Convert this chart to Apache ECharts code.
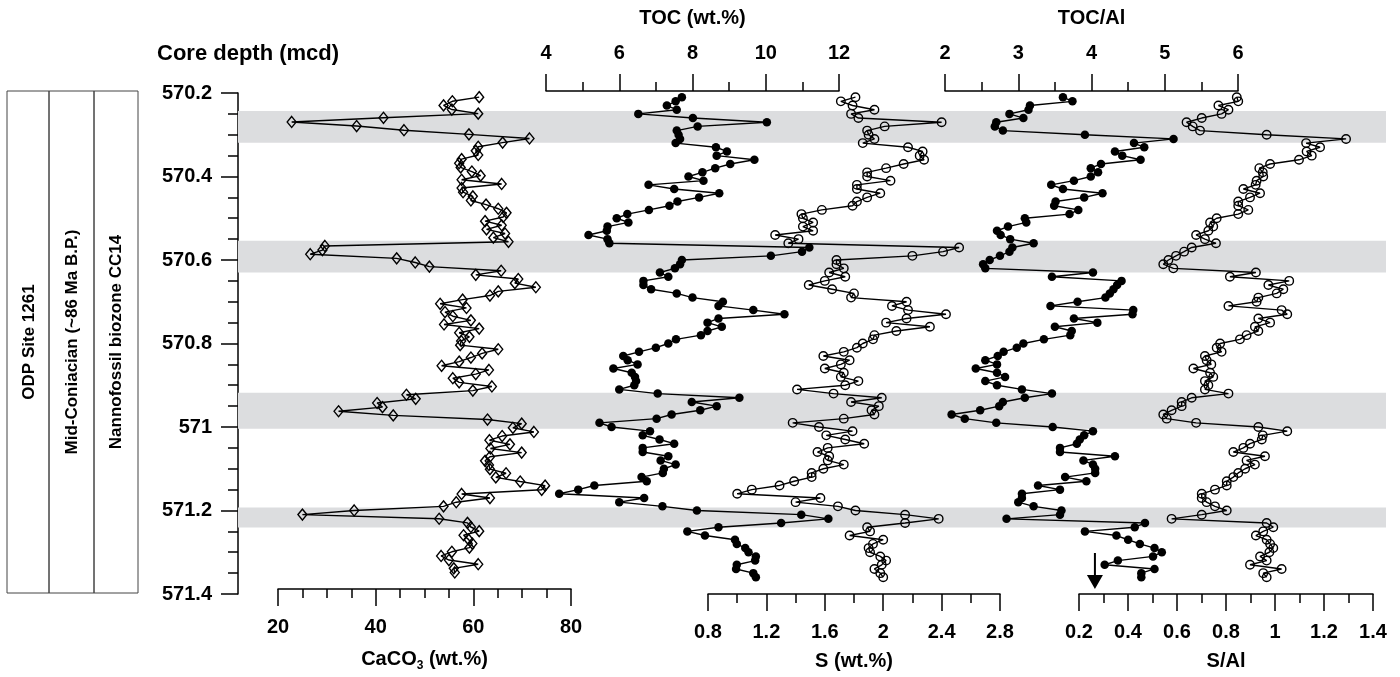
<!DOCTYPE html>
<html>
<head>
<meta charset="utf-8">
<script src="https://cdn.jsdelivr.net/npm/echarts@6/dist/echarts.min.js"></script>
<style>
  html, body { margin: 0; padding: 0; background: #fff; }
  #chart { width: 1400px; height: 677px; }
</style>
</head>
<body>
<div id="chart"></div>
<script>
// core depth of each sample (mcd)
const depth = [
  570.21, 570.22, 570.23, 570.24, 570.25, 570.26, 570.27, 570.28, 570.29, 570.30,
  570.31, 570.32, 570.33, 570.34, 570.35, 570.36, 570.37, 570.38, 570.39, 570.40,
  570.41, 570.42, 570.43, 570.44, 570.45, 570.46, 570.47, 570.48, 570.49, 570.50,
  570.51, 570.52, 570.53, 570.54, 570.55, 570.56, 570.57, 570.58, 570.59, 570.60,
  570.61, 570.62, 570.63, 570.64, 570.65, 570.66, 570.67, 570.68, 570.69, 570.70,
  570.71, 570.72, 570.73, 570.74, 570.75, 570.76, 570.77, 570.78, 570.79, 570.80,
  570.81, 570.82, 570.83, 570.84, 570.85, 570.86, 570.87, 570.88, 570.89, 570.90,
  570.91, 570.92, 570.93, 570.94, 570.95, 570.96, 570.97, 570.98, 570.99, 571.00,
  571.01, 571.02, 571.03, 571.04, 571.05, 571.06, 571.07, 571.08, 571.09, 571.10,
  571.11, 571.12, 571.13, 571.14, 571.15, 571.16, 571.17, 571.18, 571.19, 571.20,
  571.21, 571.22, 571.23, 571.24, 571.25, 571.26, 571.27, 571.28, 571.29, 571.30,
  571.31, 571.32, 571.33, 571.34, 571.35, 571.36
]

const caco3 = [
  61.2, 55.7, 53.9, 55.6, 61.0, 41.6, 22.8, 36.1, 45.8, 59.1,
  71.5, 66.0, 61.0, 60.5, 61.0, 57.6, 57.1, 57.4, 59.7, 61.5,
  57.6, 65.8, 57.6, 57.9, 59.9, 59.5, 62.6, 65.1, 66.8, 66.1,
  62.4, 65.8, 62.7, 66.5, 64.1, 67.2, 29.6, 29.1, 26.6, 44.3,
  48.1, 51.0, 65.7, 60.5, 69.2, 68.5, 72.8, 65.1, 63.4, 57.8,
  53.2, 58.6, 54.2, 55.8, 59.5, 54.0, 61.2, 57.1, 59.2, 57.5,
  57.3, 65.1, 61.8, 59.5, 57.1, 53.5, 63.2, 60.5, 55.8, 57.1,
  63.8, 59.9, 46.3, 48.2, 40.3, 41.4, 32.4, 43.6, 62.9, 69.9,
  68.1, 72.4, 65.9, 63.3, 67.5, 63.5, 69.9, 63.4, 62.4, 63.2,
  63.4, 66.7, 64.6, 69.6, 74.7, 74.0, 57.6, 63.4, 56.5, 53.9,
  35.6, 25.0, 53.0, 58.8, 59.5, 61.2, 58.0, 59.0, 59.8, 59.2,
  55.6, 53.4, 55.0, 61.0, 56.0, 56.2
]

const toc = [
  7.71, 7.54, 7.30, 7.57, 6.52, 8.01, 10.03, 8.14, 7.57, 7.62,
  7.66, 7.54, 8.64, 8.94, 8.66, 9.69, 9.03, 8.62, 8.27, 7.89,
  8.30, 6.80, 7.50, 8.73, 8.18, 7.59, 7.37, 6.81, 6.22, 5.93,
  6.25, 5.68, 5.66, 5.16, 5.68, 5.73, 11.19, 10.99, 10.14, 7.71,
  7.66, 7.52, 7.11, 7.34, 6.66, 6.66, 6.87, 7.57, 8.00, 8.83,
  8.71, 9.66, 10.51, 8.71, 8.41, 8.80, 8.41, 8.23, 7.55, 7.34,
  7.00, 6.54, 6.11, 6.23, 6.50, 5.84, 6.34, 6.43, 6.46, 6.41,
  6.00, 7.05, 9.28, 7.98, 8.66, 8.21, 7.43, 7.02, 5.46, 5.79,
  6.84, 6.64, 7.10, 7.50, 6.64, 6.64, 7.34, 7.13, 7.54, 7.22,
  7.19, 6.61, 6.75, 5.32, 4.88, 4.36, 6.68, 6.00, 7.18, 8.12,
  10.97, 11.71, 10.42, 8.71, 7.86, 8.34, 9.16, 9.21, 9.44, 9.53,
  9.73, 9.71, 9.21, 9.19, 9.66, 9.73
]

const sulfur = [
  1.81, 1.71, 1.79, 1.94, 1.78, 1.83, 2.40, 2.01, 1.89, 1.90,
  1.94, 1.86, 2.17, 2.27, 2.25, 2.28, 2.14, 2.02, 1.89, 1.89,
  2.05, 1.82, 1.82, 1.98, 1.89, 1.82, 1.79, 1.58, 1.44, 1.45,
  1.52, 1.45, 1.52, 1.26, 1.42, 1.35, 2.52, 2.41, 2.20, 1.68,
  1.68, 1.73, 1.63, 1.74, 1.60, 1.49, 1.65, 1.80, 1.78, 2.16,
  2.06, 2.17, 2.43, 2.16, 2.02, 2.32, 2.09, 1.94, 1.93, 1.86,
  1.82, 1.73, 1.59, 1.77, 1.71, 1.60, 1.73, 1.71, 1.83, 1.74,
  1.41, 1.66, 1.99, 1.78, 1.97, 1.92, 1.94, 1.73, 1.38, 1.56,
  1.79, 1.61, 1.74, 1.87, 1.62, 1.55, 1.63, 1.62, 1.73, 1.59,
  1.51, 1.51, 1.39, 1.29, 1.10, 1.00, 1.57, 1.40, 1.69, 1.81,
  2.15, 2.38, 2.15, 1.89, 1.91, 1.77, 2.00, 1.93, 1.90, 1.91,
  1.98, 2.02, 1.99, 1.94, 1.98, 2.00
]

const tocAl = [
  3.61, 3.74, 3.16, 3.14, 2.88, 3.07, 2.70, 2.68, 2.79, 3.91,
  5.12, 4.58, 4.72, 4.32, 4.42, 4.67, 4.13, 3.99, 4.09, 3.99,
  3.76, 3.45, 3.61, 4.15, 3.90, 3.51, 3.49, 3.82, 3.70, 3.09,
  3.11, 2.86, 2.71, 2.76, 2.89, 3.21, 2.92, 2.88, 2.75, 2.61,
  2.52, 2.55, 4.02, 3.46, 4.41, 4.35, 4.30, 4.25, 4.19, 3.81,
  3.44, 4.57, 4.56, 3.76, 4.08, 3.50, 3.73, 3.71, 3.35, 3.07,
  2.98, 2.80, 2.72, 2.55, 2.71, 2.42, 2.71, 2.82, 2.55, 2.71,
  3.05, 3.46, 3.09, 2.79, 2.74, 2.48, 2.09, 2.27, 2.70, 3.47,
  4.02, 3.90, 3.84, 3.80, 3.57, 3.57, 4.32, 3.89, 4.02, 4.05,
  4.05, 3.64, 3.93, 3.27, 3.57, 3.05, 3.05, 3.00, 3.21, 3.59,
  3.57, 2.84, 4.73, 4.59, 3.91, 4.34, 4.50, 4.66, 4.86, 4.96,
  4.84, 4.36, 4.18, 4.86, 4.68, 4.68
]

const sAl = [
  0.844, 0.850, 0.769, 0.810, 0.782, 0.701, 0.639, 0.664, 0.694, 0.966,
  1.290, 1.127, 1.184, 1.129, 1.150, 1.098, 0.980, 0.936, 0.950, 0.952,
  0.925, 0.921, 0.871, 0.939, 0.898, 0.850, 0.850, 0.891, 0.850, 0.762,
  0.735, 0.748, 0.728, 0.678, 0.714, 0.759, 0.660, 0.629, 0.596, 0.565,
  0.544, 0.585, 0.922, 0.816, 1.058, 0.973, 1.034, 1.007, 0.932, 0.925,
  0.810, 1.027, 1.050, 0.932, 0.980, 0.918, 0.932, 0.884, 0.857, 0.776,
  0.762, 0.782, 0.714, 0.721, 0.740, 0.667, 0.735, 0.748, 0.714, 0.728,
  0.714, 0.810, 0.660, 0.619, 0.619, 0.578, 0.544, 0.558, 0.678, 0.932,
  1.050, 0.950, 0.946, 0.898, 0.871, 0.830, 0.959, 0.884, 0.918, 0.878,
  0.850, 0.830, 0.803, 0.803, 0.755, 0.701, 0.701, 0.721, 0.755, 0.803,
  0.701, 0.578, 0.966, 0.993, 0.952, 0.922, 0.966, 0.980, 0.993, 0.977,
  0.939, 0.966, 0.898, 1.027, 0.952, 0.966
]

// grey intervals (top, bottom depth)
const bandTop = [570.243, 570.554, 570.918, 571.193]
const bandBottom = [570.319, 570.630, 571.004, 571.241]

// arrow under the S/Al column
const arrowAt = [0.265, 571.345]

const font = '"Liberation Sans", Arial, sans-serif'
const black = '#000'

const myChart = echarts.init(document.getElementById('chart'))

function pairs (vals) {
  return vals.map((v, i) => [v, depth[i]])
}

// one narrow grid per column, all sharing the same depth range
const grids = [
  { left: 238, width: 1148 }, // background + depth axis
  { left: 278, width: 293 }, // CaCO3
  { left: 546, width: 293 }, // TOC
  { left: 708, width: 292 }, // S
  { left: 945, width: 293 }, // TOC/Al
  { left: 1079, width: 294 } // S/Al
].map(g => Object.assign({ top: 93, bottom: 83 }, g))

function xAxisCfg (idx, pos, min, max, interval, minorSplit, name) {
  return {
    gridIndex: idx,
    type: 'value',
    position: pos,
    offset: pos === 'top' ? 2 : 0,
    min: min,
    max: max,
    interval: interval,
    name: name,
    nameLocation: 'middle',
    nameGap: pos === 'top' ? 63 : 57,
    nameTextStyle: {
      fontFamily: font,
      fontWeight: 'bold',
      fontSize: 20,
      color: black,
      rich: {
        sub: { fontFamily: font, fontWeight: 'bold', fontSize: 12, color: black, verticalAlign: 'bottom', padding: [14, 0, 0, 0] }
      }
    },
    axisLine: { show: true, onZero: false, lineStyle: { color: black, width: 1.5 } },
    axisTick: { show: true, length: 17, lineStyle: { color: black, width: 1.5 } },
    minorTick: { show: true, splitNumber: minorSplit, length: 9, lineStyle: { color: black, width: 1.5 } },
    axisLabel: { margin: 28, fontFamily: font, fontWeight: 'bold', fontSize: 20, color: black },
    splitLine: { show: false }
  }
}

function yAxisCfg (idx, visible) {
  return {
    gridIndex: idx,
    type: 'value',
    inverse: true,
    min: 570.2,
    max: 571.4,
    interval: 0.2,
    show: visible,
    axisLine: { show: true, lineStyle: { color: black, width: 1.5 } },
    axisTick: { show: true, length: 17, lineStyle: { color: black, width: 1.5 } },
    minorTick: { show: true, splitNumber: 4, length: 10, lineStyle: { color: black, width: 1.5 } },
    axisLabel: { margin: 26, fontFamily: font, fontWeight: 'bold', fontSize: 20, color: black },
    splitLine: { show: false }
  }
}

function column (name, idx, vals, symbol, filled) {
  return {
    name: name,
    type: 'line',
    xAxisIndex: idx,
    yAxisIndex: idx,
    data: pairs(vals),
    symbol: symbol,
    symbolSize: symbol === 'diamond' ? [9, 11] : 8.5,
    showAllSymbol: true,
    clip: false,
    z: 3,
    lineStyle: { color: black, width: 1.4 },
    itemStyle: {
      color: filled ? black : 'rgba(0,0,0,0)',
      borderColor: black,
      borderWidth: filled ? 0 : 1.4
    },
    emphasis: { disabled: true },
    animation: false
  }
}

const boxText = { fontFamily: font, fontWeight: 'bold', fontSize: 17, fill: black }

myChart.setOption({
  animation: false,
  grid: grids,
  xAxis: [
    { gridIndex: 0, type: 'value', min: 0, max: 1, show: false },
    xAxisCfg(1, 'bottom', 20, 80, 20, 4, 'CaCO{sub|3} (wt.%)'),
    xAxisCfg(2, 'top', 4, 12, 2, 2, 'TOC (wt.%)'),
    xAxisCfg(3, 'bottom', 0.8, 2.8, 0.4, 2, 'S (wt.%)'),
    xAxisCfg(4, 'top', 2, 6, 1, 2, 'TOC/Al'),
    xAxisCfg(5, 'bottom', 0.2, 1.4, 0.2, 2, 'S/Al')
  ],
  yAxis: [0, 1, 2, 3, 4, 5].map(i => yAxisCfg(i, i === 0)),
  series: [
    {
      type: 'line',
      xAxisIndex: 0,
      yAxisIndex: 0,
      data: [],
      z: 0,
      markArea: {
        silent: true,
        itemStyle: { color: '#dcdddf' },
        data: bandTop.map((t, i) => [{ yAxis: t }, { yAxis: bandBottom[i] }])
      }
    },
    column('CaCO3', 1, caco3, 'diamond', false),
    column('TOC', 2, toc, 'circle', true),
    column('S', 3, sulfur, 'circle', false),
    column('TOC/Al', 4, tocAl, 'circle', true),
    Object.assign(column('S/Al', 5, sAl, 'circle', false), {
      markPoint: {
        silent: true,
        symbol: 'path://M7,0 L9,0 L9,22 L16,22 L8,36 L0,22 L7,22 Z',
        symbolSize: [16, 36],
        itemStyle: { color: black },
        label: { show: false },
        data: [{ coord: arrowAt }]
      }
    })
  ],
  graphic: [
    { type: 'rect', shape: { x: 7, y: 91, width: 42, height: 502 }, style: { fill: 'none', stroke: '#444', lineWidth: 1 } },
    { type: 'rect', shape: { x: 49, y: 91, width: 45, height: 502 }, style: { fill: 'none', stroke: '#444', lineWidth: 1 } },
    { type: 'rect', shape: { x: 94, y: 91, width: 44, height: 502 }, style: { fill: 'none', stroke: '#444', lineWidth: 1 } },
    { type: 'text', x: 29, y: 342, rotation: Math.PI / 2, style: Object.assign({ text: 'ODP Site 1261', textAlign: 'center', textVerticalAlign: 'middle' }, boxText) },
    { type: 'text', x: 72, y: 342, rotation: Math.PI / 2, style: Object.assign({ text: 'Mid-Coniacian (~86 Ma B.P.)', textAlign: 'center', textVerticalAlign: 'middle' }, boxText) },
    { type: 'text', x: 116, y: 342, rotation: Math.PI / 2, style: Object.assign({ text: 'Nannofossil biozone CC14', textAlign: 'center', textVerticalAlign: 'middle' }, boxText) },
    { type: 'text', x: 157, y: 54, style: { text: 'Core depth (mcd)', textVerticalAlign: 'middle', fontFamily: font, fontWeight: 'bold', fontSize: 22, fill: black } }
  ]
})
</script>
</body>
</html>
